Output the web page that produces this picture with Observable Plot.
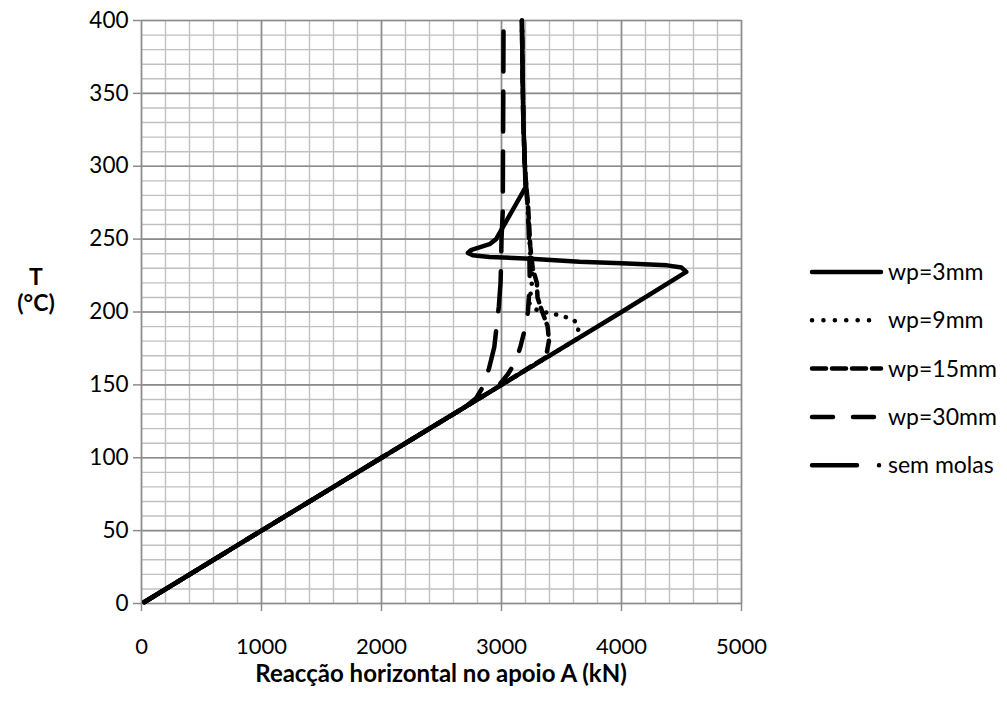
<!DOCTYPE html>
<html><head><meta charset="utf-8">
<script src="https://cdn.jsdelivr.net/npm/d3@7"></script>
<script src="https://cdn.jsdelivr.net/npm/@observablehq/plot@0.6"></script>
<style>
body{margin:0;background:#fff;font-family:Lato,"Open Sans",sans-serif;color:#000;}
#wrap{position:relative;width:1007px;height:713px;overflow:hidden;}
#chart{position:absolute;left:0;top:0;}
.ytitle{position:absolute;left:0;width:72px;text-align:center;font-weight:bold;font-size:23px;line-height:22px;height:22px;}
.xtitle{position:absolute;left:91px;width:700px;text-align:center;font-weight:bold;font-size:24px;line-height:24px;top:661px;}
#legend{position:absolute;left:800px;top:250px;}
</style></head><body>
<div id="wrap">
<div id="chart"></div>
<div class="ytitle" style="top:265px">T</div>
<div class="ytitle" style="top:291px">(°C)</div>
<div class="xtitle">Reacção horizontal no apoio A (kN)</div>
<svg id="legend" width="207" height="240"></svg>
</div>
<script>
// Tick values
const xTicks = [0, 1000, 2000, 3000, 4000, 5000];
const yTicks = [0, 50, 100, 150, 200, 250, 300, 350, 400];

// Series: horizontal reaction R (kN) and temperature T (°C)
const wp3_R = [25, 1000, 2000, 3000, 4000, 4540, 4500, 4380, 4000, 3650, 3240, 2900, 2760, 2720, 2745, 2900, 2955, 3200, 3195, 3182, 3175, 3170];
const wp3_T = [1, 50, 100, 150, 200, 227.5, 230.5, 232, 233.5, 234.5, 236.5, 237.8, 239, 240.5, 242.5, 246.5, 250, 285.5, 300, 330, 370, 400];

const wp9_R = [25, 1000, 2000, 3000, 3620, 3645, 3600, 3470, 3350, 3260, 3225, 3250, 3255, 3240, 3225, 3212, 3205, 3195, 3182, 3175, 3170];
const wp9_T = [1, 50, 100, 150, 181, 190, 195, 198, 200, 202.5, 207, 215, 225, 240, 260, 280, 287, 300, 330, 370, 400];

const wp15_R = [25, 1000, 2000, 3000, 3370, 3395, 3385, 3340, 3300, 3295, 3260, 3240, 3230, 3220, 3205, 3195, 3182, 3175, 3170];
const wp15_T = [1, 50, 100, 150, 169, 180, 190, 200, 210, 220, 230, 245, 260, 275, 287, 300, 330, 370, 400];

const wp30_R = [25, 1000, 2000, 2960, 3050, 3120, 3160, 3200, 3220, 3228, 3235, 3232, 3225, 3215, 3205, 3195, 3182, 3175, 3170];
const wp30_T = [1, 50, 100, 148, 157, 166, 177, 190, 200, 210, 225, 240, 260, 275, 287, 300, 330, 370, 400];

const sem_R = [25, 1000, 2000, 2700, 2790, 2840, 2895, 2940, 2978, 2992, 2997, 3000, 3011, 3012, 3015, 3017];
const sem_T = [1, 50, 100, 135, 141, 148, 161, 176, 204, 220, 235, 250, 270, 300, 350, 400];

const seriesNames = ["wp=3mm", "wp=9mm", "wp=15mm", "wp=30mm", "sem molas"];

function rows(R, T) { return R.map((r, i) => ({R: r, T: T[i]})); }

const styles = {
  "wp=3mm":   {dash: null,      cap: "round", w: 4.5},
  "wp=9mm":   {dash: "0.1,10",  cap: "round", w: 4.5},
  "wp=15mm":  {dash: "11,6",    cap: "round", w: 4.5},
  "wp=30mm":  {dash: "18,20",   cap: "round", w: 4.5},
  "sem molas":{dash: "40,20",   cap: "round", w: 4.5}
};
const seriesData = {
  "wp=3mm": rows(wp3_R, wp3_T),
  "wp=9mm": rows(wp9_R, wp9_T),
  "wp=15mm": rows(wp15_R, wp15_T),
  "wp=30mm": rows(wp30_R, wp30_T),
  "sem molas": rows(sem_R, sem_T)
};

const minorX = d3.range(0, 5001, 200);
const minorY = d3.range(0, 401, 10);

const drawOrder = ["sem molas", "wp=30mm", "wp=15mm", "wp=9mm", "wp=3mm"];

const plot = Plot.plot({
  width: 1007,
  height: 713,
  marginLeft: 141,
  marginRight: 266,
  marginTop: 20,
  marginBottom: 110,
  style: {fontFamily: "Lato, 'Open Sans', sans-serif", fontSize: "22px", color: "#000", background: "#fff"},
  x: {domain: [0, 5000]},
  y: {domain: [0, 400]},
  marks: [
    Plot.ruleX(minorX, {stroke: "#c0c0c0", strokeWidth: 1.4}),
    Plot.ruleY(minorY, {stroke: "#c0c0c0", strokeWidth: 1.4}),
    Plot.ruleX(xTicks, {stroke: "#8c8c8c", strokeWidth: 1.6}),
    Plot.ruleY(yTicks, {stroke: "#8c8c8c", strokeWidth: 1.6}),
    Plot.axisY({ticks: yTicks, tickSize: 8, tickPadding: 5, label: null, stroke: "#8c8c8c", strokeWidth: 1.5, tickFormat: d => String(d), fontSize: 22.5}),
    Plot.axisX({ticks: xTicks, tickSize: 8, tickPadding: 27, label: null, stroke: "#8c8c8c", strokeWidth: 1.5, tickFormat: d => String(d), fontSize: 22}),
    ...drawOrder.map(name => Plot.line(seriesData[name], {
      x: "R", y: "T", stroke: "#000",
      strokeWidth: styles[name].w,
      strokeDasharray: styles[name].dash,
      strokeLinecap: styles[name].cap,
      strokeLinejoin: "round",
      curve: "linear"
    }))
  ]
});
document.getElementById("chart").appendChild(plot);

// Legend
const lg = d3.select("#legend");
const legendDash = {
  "wp=3mm": null,
  "wp=9mm": "0.1,11.3",
  "wp=15mm": "14,6",
  "wp=30mm": "21,20",
  "sem molas": "45,22,0.1,30"
};
seriesNames.forEach((name, i) => {
  const yy = 22 + i * 48.3;
  lg.append("line")
    .attr("x1", 12).attr("x2", name === "wp=9mm" ? 76 : (name === "sem molas" ? 80 : 81))
    .attr("y1", yy).attr("y2", yy)
    .attr("stroke", "#000").attr("stroke-width", 4.5)
    .attr("stroke-linecap", "round")
    .attr("stroke-dasharray", legendDash[name]);
  lg.append("text").attr("x", 88).attr("y", yy).attr("dy", "0.35em")
    .attr("font-size", 23).attr("font-family", "Lato, 'Open Sans', sans-serif")
    .text(name);
});
</script>
</body></html>
